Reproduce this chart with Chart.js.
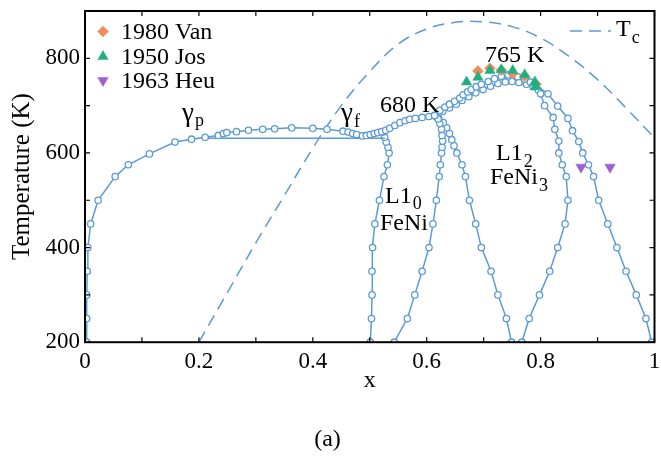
<!DOCTYPE html>
<html>
<head>
<meta charset="utf-8">
<script src="https://cdn.jsdelivr.net/npm/chart.js@4/dist/chart.umd.min.js"></script>
<style>
html,body{margin:0;padding:0;background:#fff;}
#wrap{width:661px;height:457px;}
</style>
</head>
<body>
<div id="wrap"><canvas id="c" width="661" height="457"></canvas></div>
<script>
// ---------- data ----------
const xTicksMajor = [0, 0.2, 0.4, 0.6, 0.8, 1];
const yTicksMajor = [200, 400, 600, 800];

// gamma_p / gamma_f boundary
const gammaX = [0.003,0.003,0.003,0.004,0.005,0.010,0.023,0.053,0.076,0.113,0.158,0.187,0.211,0.234,0.243,0.249,0.266,0.287,0.312,0.333,0.363,0.400,0.425,0.453,0.462,0.470,0.477,0.487,0.494,0.501,0.508,0.514,0.521,0.528,0.535,0.544,0.553,0.562,0.570,0.580,0.592,0.604,0.614];
const gammaT = [200,250,300,350,400,450,500,550,575,598,623,629,633,637,641,643,645,648,650,651,653,652,650,646,644,641,639,636,637,639,641,643,645,648,652,658,664,668,671,673,675,677,679];

// flat three-phase line
const flatX = [0.211, 0.527];
const flatT = [631, 631];

// L1_0 left boundary
const aX = [0.501,0.503,0.504,0.504,0.505,0.509,0.517,0.525,0.531,0.534,0.532,0.529,0.526,0.523];
const aT = [200,250,300,350,400,450,500,550,575,600,612,623,633,644];

// L1_0 right boundary
const bX = [0.543,0.566,0.579,0.592,0.604,0.611,0.617,0.622,0.624,0.626,0.627,0.628,0.627,0.626,0.623,0.620,0.614];
const bT = [200,250,300,350,400,450,500,550,575,600,612,625,637,650,662,672,679];

// L1_2 left boundary
const cX = [0.749,0.740,0.725,0.713,0.696,0.686,0.675,0.668,0.662,0.653,0.648,0.644,0.640,0.635,0.629,0.621,0.614];
const cT = [200,250,300,350,400,450,500,550,575,600,615,628,641,653,664,673,679];

// upper dome + outer Ni-side boundary
const eX = [0.614,0.623,0.632,0.640,0.649,0.658,0.664,0.672,0.678,0.687,0.696,0.708,0.719,0.731,0.743,0.752,0.760,0.772,0.782,0.792,0.813,0.830,0.848,0.856,0.867,0.874,0.884,0.893,0.902,0.918,0.934,0.950,0.968,0.985,0.995];
const eT = [679,690,697,703,709,716,723,729,734,740,745,751,757,762,765,764,761,756,750,743,725,699,673,647,624,600,575,550,500,450,400,350,300,250,200];

// lower dome + inner Ni-side boundary
const dX = [0.614,0.628,0.640,0.652,0.662,0.674,0.686,0.699,0.712,0.725,0.738,0.750,0.762,0.775,0.787,0.796,0.800,0.807,0.822,0.825,0.832,0.832,0.838,0.845,0.848,0.843,0.830,0.816,0.798,0.780,0.767];
const dT = [679,688,695,703,711,719,727,734,741,747,750,751,749,745,740,733,725,700,675,650,625,600,575,550,500,450,400,350,300,250,200];

// Curie temperature (dashed)
const tcX = [0.20,0.25,0.30,0.35,0.40,0.45,0.50,0.55,0.60,0.65,0.70,0.75,0.80,0.85,0.90,0.95,1.00];
const tcT = [200,305,410,510,610,700,772,830,862,876,877,867,843,804,755,695,632];

// experiments
const vanX = [0.690,0.711,0.731,0.751,0.772,0.792];
const vanT = [773,779,775,768,762,745];
const josX = [0.670,0.690,0.711,0.731,0.751,0.772,0.790,0.791];
const josT = [750,760,774,776,774,765,750,740];
const heuX = [0.871,0.922];
const heuT = [570,570];

// ---------- styling ----------
const BLUE = '#5b9bd5';
const ORANGE = '#f28c5c';
const GREEN = '#20b07f';
const PURPLE = '#9d5fd3';
const SERIF = "'Liberation Serif','DejaVu Serif',serif";

const zip = (xs, ys) => xs.map((v, i) => ({x: v, y: ys[i]}));

function curve(xs, ys, markers) {
  return {
    data: zip(xs, ys), showLine: true, borderColor: BLUE, borderWidth: 1.5,
    pointStyle: 'circle', pointRadius: markers ? 3.2 : 0,
    pointBackgroundColor: '#fff', pointBorderColor: BLUE, pointBorderWidth: 1.3,
    tension: 0, fill: false
  };
}
function sym(xs, ys, style, color, rot) {
  return {
    data: zip(xs, ys), showLine: false, pointStyle: style, pointRadius: style === 'rectRot' ? 5.5 : 6,
    pointRotation: rot || 0, pointBackgroundColor: color, pointBorderColor: color, pointBorderWidth: 0.5
  };
}

const datasets = [
  sym(josX, josT, 'triangle', GREEN),
  sym(vanX, vanT, 'rectRot', ORANGE),
  sym(heuX, heuT, 'triangle', PURPLE, 180),
  curve(gammaX, gammaT, true),
  curve(flatX, flatT, false),
  curve(aX, aT, true),
  curve(bX, bT, true),
  curve(cX, cT, true),
  curve(eX, eT, true),
  curve(dX, dT, true),
  Object.assign(curve(tcX, tcT, false), {borderDash: [12, 7], tension: 0.4, borderWidth: 1.5})
];

// ---------- plugins ----------
const frameTicks = {
  id: 'frameTicks',
  afterDatasetsDraw(chart) {
    const {ctx, chartArea: a, scales: {x, y}} = chart;
    ctx.save();
    ctx.strokeStyle = '#000';
    ctx.lineWidth = 1.2;
    ctx.beginPath();
    x.ticks.forEach(t => {
      const p = x.getPixelForValue(t.value);
      ctx.moveTo(p, a.bottom); ctx.lineTo(p, a.bottom - 5);
      ctx.moveTo(p, a.top); ctx.lineTo(p, a.top + 5);
    });
    y.ticks.forEach(t => {
      const p = y.getPixelForValue(t.value);
      ctx.moveTo(a.left, p); ctx.lineTo(a.left + 5, p);
      ctx.moveTo(a.right, p); ctx.lineTo(a.right - 5, p);
    });
    ctx.stroke();
    ctx.lineWidth = 2;
    ctx.strokeRect(a.left, a.top, a.right - a.left, a.bottom - a.top);
    ctx.restore();
  }
};

function subText(ctx, main, sub, x, yBase, mainSize, subSize, subDrop) {
  ctx.font = mainSize + 'px ' + SERIF;
  ctx.fillText(main, x, yBase);
  const w = ctx.measureText(main).width;
  ctx.font = subSize + 'px ' + SERIF;
  ctx.fillText(sub, x + w + 1, yBase + subDrop);
}

const annotations = {
  id: 'annotations',
  afterDraw(chart) {
    const ctx = chart.ctx;
    ctx.save();
    ctx.fillStyle = '#000';
    ctx.textAlign = 'left';
    ctx.textBaseline = 'alphabetic';
    // gamma labels
    subText(ctx, 'γ', 'p', 182, 121, 27, 18, 5);
    subText(ctx, 'γ', 'f', 341, 121, 27, 18, 6);
    ctx.font = '24px ' + SERIF;
    ctx.fillText('680 K', 380, 112);
    ctx.fillText('765 K', 485, 62);
    subText(ctx, 'L1', '2', 496, 160, 24, 18, 7);
    subText(ctx, 'FeNi', '3', 490, 184, 24, 18, 7);
    subText(ctx, 'L1', '0', 385, 203, 24, 18, 6);
    ctx.font = '24px ' + SERIF;
    ctx.fillText('FeNi', 380, 230);

    // legend (experiments)
    const H = Chart.helpers;
    const items = [
      ['1980 Van', 'rectRot', ORANGE, 0, 5.5],
      ['1950 Jos', 'triangle', GREEN, 0, 6],
      ['1963 Heu', 'triangle', PURPLE, 180, 6]
    ];
    const ys = [31.5, 56.5, 80.5];
    items.forEach((it, i) => {
      ctx.fillStyle = it[2]; ctx.strokeStyle = it[2]; ctx.lineWidth = 0.5;
      H.drawPoint(ctx, {pointStyle: it[1], radius: it[4], rotation: it[3], borderWidth: 0.5}, 103, ys[i]);
      ctx.fillStyle = '#000';
      ctx.font = '24px ' + SERIF;
      ctx.textBaseline = 'middle';
      ctx.fillText(it[0], 121, ys[i] + 1);
    });
    ctx.textBaseline = 'alphabetic';
    // Tc legend
    ctx.strokeStyle = BLUE; ctx.lineWidth = 1.5;
    ctx.setLineDash([12, 7]);
    ctx.beginPath(); ctx.moveTo(570, 31); ctx.lineTo(611, 31); ctx.stroke();
    ctx.setLineDash([]);
    ctx.fillStyle = '#000';
    subText(ctx, 'T', 'c', 616, 36, 24, 18, 7);
    ctx.restore();
  }
};

// ---------- chart ----------
new Chart(document.getElementById('c'), {
  type: 'scatter',
  data: {datasets},
  options: {
    responsive: false,
    animation: false,
    events: [],
    layout: {padding: {left: 0, right: 6, top: 11, bottom: 0}},
    plugins: {
      legend: {display: false},
      tooltip: {enabled: false},
      title: {
        display: true, text: '(a)', position: 'bottom', color: '#000',
        font: {family: SERIF, size: 24, weight: 'normal', lineHeight: 1.2},
        padding: {top: 31, bottom: 3}
      }
    },
    scales: {
      x: {
        type: 'linear', min: 0, max: 1,
        grid: {display: false, drawTicks: false},
        border: {display: false},
        ticks: {
          stepSize: 0.1, autoSkip: false, maxRotation: 0, padding: 6, color: '#000',
          font: {family: SERIF, size: 23},
          callback: v => {
            const r = Math.round(v * 10);
            if (r % 2 !== 0) return '';
            const val = r / 10;
            return xTicksMajor.includes(val) ? (val === 0 ? '0' : val === 1 ? '1' : val.toFixed(1)) : '';
          }
        },
        title: {display: true, text: 'x', color: '#000', font: {family: SERIF, size: 24, lineHeight: 1.0}, padding: {top: 0, bottom: 1}},
        afterFit: s => { s.height = 52; s.paddingLeft = 0; s.paddingRight = 0; }
      },
      y: {
        type: 'linear', min: 200, max: 900,
        grid: {display: false, drawTicks: false},
        border: {display: false},
        ticks: {
          stepSize: 100, autoSkip: false, padding: 5, color: '#000',
          font: {family: SERIF, size: 23},
          callback: v => yTicksMajor.includes(v) ? String(v) : ''
        },
        title: {display: true, text: 'Temperature (K)', color: '#000', font: {family: SERIF, size: 25, lineHeight: 1.2}, padding: {top: 7, bottom: 0}},
        afterFit: s => { s.width = 85; s.paddingTop = 0; s.paddingBottom = 0; }
      }
    }
  },
  plugins: [frameTicks, annotations]
});
</script>
</body>
</html>
